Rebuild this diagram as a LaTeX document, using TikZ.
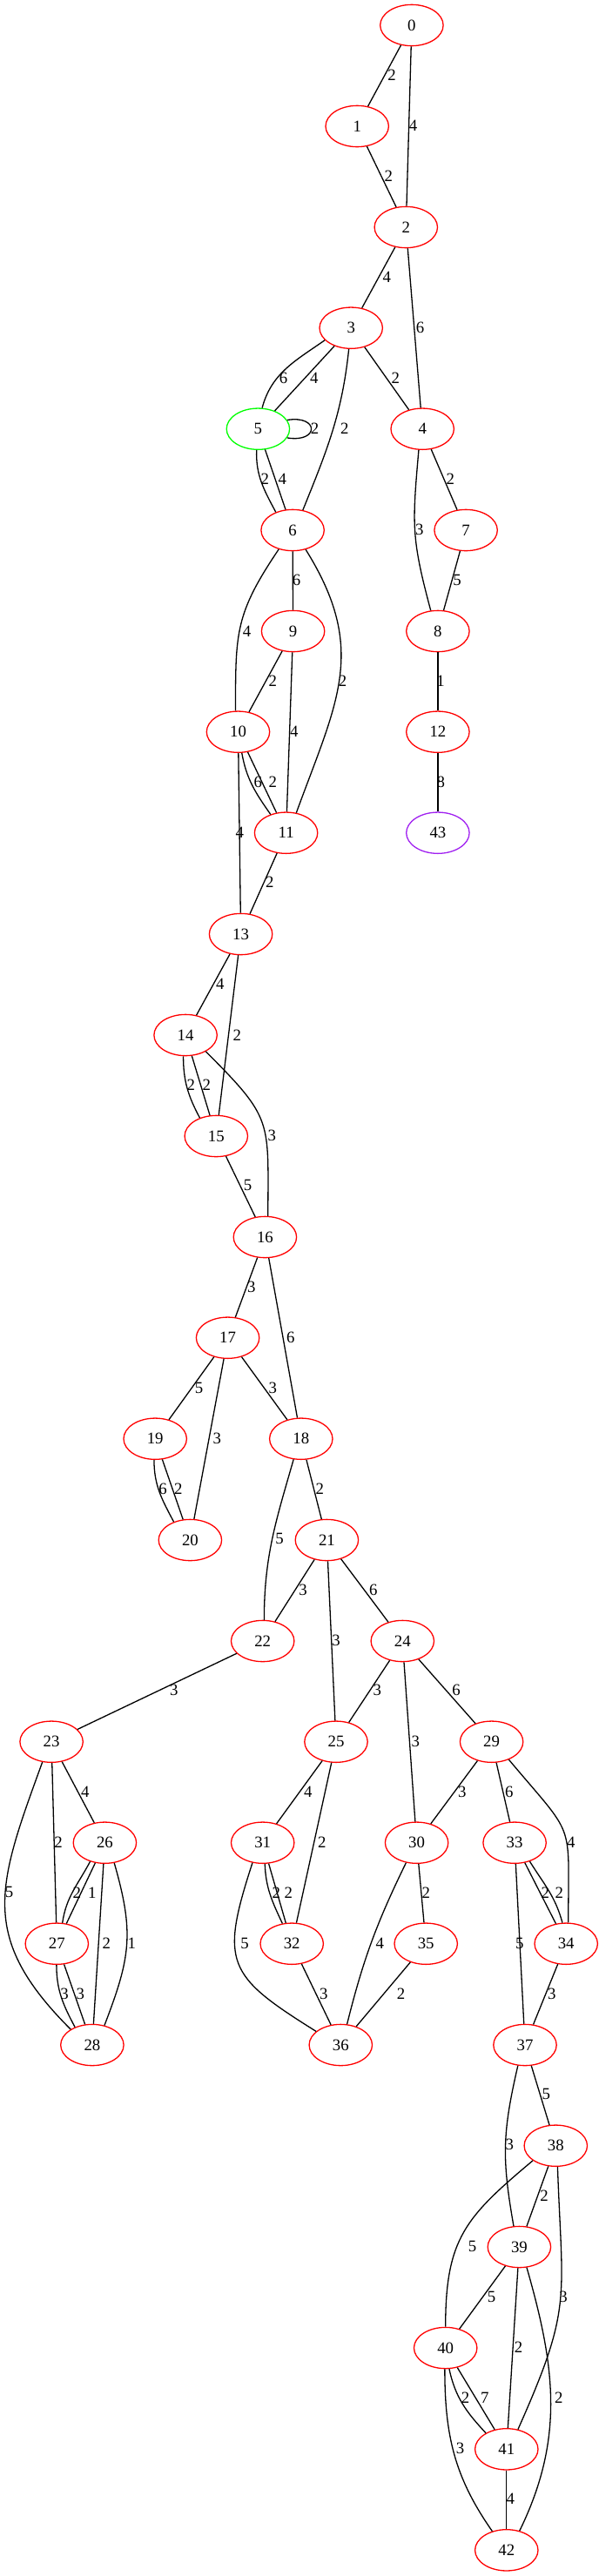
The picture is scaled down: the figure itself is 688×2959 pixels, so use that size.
\documentclass[tikz,border=0pt]{standalone}
\usepackage{fontspec}
\setmainfont{Liberation Serif}
\usetikzlibrary{shapes.geometric}
\definecolor{gvgreen}{RGB}{0,255,0}
\definecolor{gvpurple}{RGB}{160,32,240}
\begin{document}
\begin{tikzpicture}[x=1pt,y=1pt,
  vtx/.style={ellipse, draw=red, line width=1.3pt, minimum width=72.4pt, minimum height=47.3pt, inner sep=0pt, font=\fontsize{18.8}{20}\selectfont},
  lbl/.style={inner sep=0pt, font=\fontsize{18.8}{20}\selectfont},
  con/.style={line width=1.3pt, black}]
\useasboundingbox (0,0) rectangle (688,-2959);
% nodes
\node[vtx] (n0) at (472.9,-29) {0};
\node[vtx] (n1) at (410.2,-145) {1};
\node[vtx] (n2) at (466.3,-261) {2};
\node[vtx] (n3) at (403.2,-376.7) {3};
\node[vtx] (n4) at (485.2,-492.7) {4};
\node[vtx, draw=gvgreen] (n5) at (296.4,-492.7) {5};
\node[vtx] (n6) at (336.1,-609) {6};
\node[vtx] (n7) at (535.1,-609) {7};
\node[vtx] (n8) at (502.9,-725) {8};
\node[vtx] (n9) at (336.6,-725) {9};
\node[vtx] (n10) at (273.5,-840.7) {10};
\node[vtx] (n11) at (328.6,-956.7) {11};
\node[vtx] (n12) at (502.9,-840.7) {12};
\node[vtx, draw=gvpurple] (n43) at (502.9,-956.7) {43};
\node[vtx] (n13) at (276.6,-1073) {13};
\node[vtx] (n14) at (213.1,-1189) {14};
\node[vtx] (n15) at (248.3,-1305) {15};
\node[vtx] (n16) at (304.4,-1421) {16};
\node[vtx] (n17) at (261.6,-1536.7) {17};
\node[vtx] (n18) at (345.8,-1652.7) {18};
\node[vtx] (n19) at (178.2,-1652.7) {19};
\node[vtx] (n20) at (218.4,-1769) {20};
\node[vtx] (n21) at (375.4,-1769) {21};
\node[vtx] (n22) at (301.7,-1885) {22};
\node[vtx] (n24) at (462.3,-1885) {24};
\node[vtx] (n23) at (59.1,-2000.7) {23};
\node[vtx] (n25) at (386,-2000.7) {25};
\node[vtx] (n29) at (564.6,-2000.7) {29};
\node[vtx] (n26) at (120.4,-2116.7) {26};
\node[vtx] (n31) at (301.7,-2116.7) {31};
\node[vtx] (n30) at (478.6,-2116.7) {30};
\node[vtx] (n33) at (591.1,-2116.7) {33};
\node[vtx] (n27) at (65.3,-2232.7) {27};
\node[vtx] (n32) at (335.2,-2232.7) {32};
\node[vtx] (n35) at (489.2,-2232.7) {35};
\node[vtx] (n34) at (650.2,-2232.7) {34};
\node[vtx] (n28) at (105.9,-2349) {28};
\node[vtx] (n36) at (391.3,-2349) {36};
\node[vtx] (n37) at (603,-2349) {37};
\node[vtx] (n38) at (638.3,-2464.7) {38};
\node[vtx] (n39) at (596.4,-2581) {39};
\node[vtx] (n40) at (511.7,-2697) {40};
\node[vtx] (n41) at (581.8,-2813.3) {41};
\node[vtx] (n42) at (581.8,-2929.3) {42};
% edges
\draw[con] (n0) -- (n1);
\draw[con] (n0) -- (n2);
\draw[con] (n1) -- (n2);
\draw[con] (n2) -- (n3);
\draw[con] (n2) -- (n4);
\draw[con] (n3.205) to[out=215,in=75] (n5.79);
\draw[con] (n3) -- (n5);
\draw[con] (n3) -- (n4);
\draw[con] (n3.-96) to[out=-96,in=68] (n6.63);
\draw[con] (n5.17) .. controls +(37,6) and +(37,-6) .. (n5.-17);
\draw[con] (n5.-94) to[out=-92,in=118] (n6.133);
\draw[con] (n5) -- (n6);
\draw[con] (n4) -- (n7);
\draw[con] (n4.-100) to[out=-95,in=105,looseness=1.2] (n8.109);
\draw[con] (n7) -- (n8);
\draw[con] (n6) -- (n9);
\draw[con] (n6.-126) to[out=-124,in=90,looseness=1.2] (n10.97);
\draw[con] (n6.-56) to[out=-58,in=70,looseness=1.15] (n11.63);
\draw[con] (n9) -- (n10);
\draw[con] (n9) -- (n11);
\draw[con] (n8) -- (n12);
\draw[con] (n12) -- (n43);
\draw[con] (n10.-80) to[out=-80,in=125] (n11.130);
\draw[con] (n10) -- (n11);
\draw[con] (n10) -- (n13);
\draw[con] (n11) -- (n13);
\draw[con] (n13) -- (n14);
\draw[con] (n13) -- (n15);
\draw[con] (n14.-96) to[out=-90,in=118] (n15.132);
\draw[con] (n14) -- (n15);
\draw[con] (n14.-39) to[out=-45,in=90,looseness=1.4] (n16.82);
\draw[con] (n15) -- (n16);
\draw[con] (n16) -- (n17);
\draw[con] (n16) -- (n18);
\draw[con] (n17) -- (n19);
\draw[con] (n17) -- (n20);
\draw[con] (n17) -- (n18);
\draw[con] (n19.-93) to[out=-90,in=118] (n20.132);
\draw[con] (n19) -- (n20);
\draw[con] (n18.-110) to[out=-106,in=90] (n22.86);
\draw[con] (n18) -- (n21);
\draw[con] (n21) -- (n22);
\draw[con] (n21) -- (n25);
\draw[con] (n21) -- (n24);
\draw[con] (n22) -- (n23);
\draw[con] (n24) -- (n25);
\draw[con] (n24) -- (n30);
\draw[con] (n24) -- (n29);
\draw[con] (n23.-114) to[out=-110,in=135,looseness=1.25] (n28.144);
\draw[con] (n23) -- (n27);
\draw[con] (n23) -- (n26);
\draw[con] (n26.-128) to[out=-118,in=82] (n27.75);
\draw[con] (n26) -- (n27);
\draw[con] (n26) -- (n28);
\draw[con] (n26.-65) to[out=-74,in=69,looseness=1.15] (n28.58);
\draw[con] (n27.-91) to[out=-90,in=118] (n28.134);
\draw[con] (n27) -- (n28);
\draw[con] (n25) -- (n31);
\draw[con] (n25) -- (n32);
\draw[con] (n31.-84) to[out=-88,in=115] (n32.115);
\draw[con] (n31) -- (n32);
\draw[con] (n31.-117) to[out=-108,in=148,looseness=1.5] (n36.151);
\draw[con] (n32) -- (n36);
\draw[con] (n29) -- (n30);
\draw[con] (n29) -- (n33);
\draw[con] (n29.-46) to[out=-50,in=90,looseness=1.55] (n34.84);
\draw[con] (n30) -- (n35);
\draw[con] (n30.-118) to[out=-116,in=76] (n36.73);
\draw[con] (n35) -- (n36);
\draw[con] (n33) -- (n34);
\draw[con] (n33.-51) to[out=-58,in=105] (n34.100);
\draw[con] (n33) -- (n37);
\draw[con] (n34) -- (n37);
\draw[con] (n37) -- (n38);
\draw[con] (n37.-109) to[out=-103,in=100,looseness=1.1] (n39.105);
\draw[con] (n38) -- (n39);
\draw[con] (n38.-147) to[out=-140,in=90,looseness=1.2] (n40.90);
\draw[con] (n38.-85) to[out=-88,in=66,looseness=1.3] (n41.60);
\draw[con] (n39) -- (n40);
\draw[con] (n39) -- (n41);
\draw[con] (n39.-70) to[out=-74,in=64] (n42.56);
\draw[con] (n40.-80) to[out=-78,in=133] (n41.142);
\draw[con] (n40) -- (n41);
\draw[con] (n40.-92) to[out=-90,in=125] (n42.127);
\draw[con] (n41) -- (n42);
% labels
\node[lbl] (e0t1) at (450,-86.7) {2};
\node[lbl] (e0t2) at (474.6,-144.3) {4};
\node[lbl] (e1t2) at (446.4,-202) {2};
\node[lbl] (e2t3) at (444.2,-318.3) {4};
\node[lbl] (e2t4) at (482.6,-376.7) {6};
\node[lbl] (e3t5a) at (325.5,-434.3) {6};
\node[lbl] (e3t5b) at (360.8,-434.3) {4};
\node[lbl] (e3t4) at (454.3,-434.3) {2};
\node[lbl] (e5t5) at (361.5,-492.7) {2};
\node[lbl] (e3t6) at (395.7,-492.7) {2};
\node[lbl] (e5t6a) at (304.4,-550) {2};
\node[lbl] (e5t6b) at (324.2,-550) {4};
\node[lbl] (e4t7) at (517.4,-550) {2};
\node[lbl] (e4t8) at (481.7,-608.3) {3};
\node[lbl] (e6t9) at (340.5,-666) {6};
\node[lbl] (e7t8) at (525,-666) {5};
\node[lbl] (e6t10) at (283.6,-725) {4};
\node[lbl] (e9t10) at (313.2,-782.7) {2};
\node[lbl] (e6t11) at (393.5,-782.7) {2};
\node[lbl] (e8t12) at (506,-782.7) {1};
\node[lbl] (e9t11) at (337.9,-840.7) {4};
\node[lbl] (e10t11a) at (296.4,-898.3) {6};
\node[lbl] (e10t11b) at (313.2,-898.3) {2};
\node[lbl] (e12t43) at (506.4,-898.3) {8};
\node[lbl] (e10t13) at (275.3,-956) {4};
\node[lbl] (e11t13) at (309.7,-1013.7) {2};
\node[lbl] (e13t14) at (252.8,-1130) {4};
\node[lbl] (e13t15) at (272.2,-1189) {2};
\node[lbl] (e14t15a) at (219.2,-1246.7) {2};
\node[lbl] (e14t15b) at (237.3,-1246.7) {2};
\node[lbl] (e14t16) at (312.3,-1304.3) {3};
\node[lbl] (e15t16) at (284.5,-1361.7) {5};
\node[lbl] (e16t17) at (288.9,-1478.3) {3};
\node[lbl] (e16t18) at (333.9,-1536) {6};
\node[lbl] (e17t19) at (228.5,-1594.3) {5};
\node[lbl] (e17t18) at (313.2,-1594.3) {3};
\node[lbl] (e17t20) at (249.2,-1652.3) {3};
\node[lbl] (e19t20a) at (187,-1710) {6};
\node[lbl] (e19t20b) at (204.7,-1710) {2};
\node[lbl] (e18t21) at (367.4,-1710) {2};
\node[lbl] (e18t22) at (321.1,-1767.7) {5};
\node[lbl] (e21t22) at (348,-1826) {3};
\node[lbl] (e21t24) at (428.8,-1826) {6};
\node[lbl] (e21t25) at (386,-1884) {3};
\node[lbl] (e22t23) at (199.8,-1941.7) {3};
\node[lbl] (e24t25) at (433.2,-1941.7) {3};
\node[lbl] (e24t29) at (524,-1941.7) {6};
\node[lbl] (e24t30) at (477.3,-2000) {3};
\node[lbl] (e23t26) at (97.9,-2058.3) {4};
\node[lbl] (e23t27) at (67,-2116.7) {2};
\node[lbl] (e23t28) at (10.6,-2173.3) {5};
\node[lbl] (e26t27a) at (88.2,-2174.3) {2};
\node[lbl] (e26t27b) at (105.9,-2174.3) {1};
\node[lbl] (e26t28a) at (122.2,-2232.3) {2};
\node[lbl] (e26t28b) at (151.3,-2232.3) {1};
\node[lbl] (e27t28a) at (74.1,-2290) {3};
\node[lbl] (e27t28b) at (92.2,-2290) {3};
\node[lbl] (e25t31) at (353.8,-2058.3) {4};
\node[lbl] (e25t32) at (369.7,-2116.7) {2};
\node[lbl] (e31t32a) at (317.2,-2174.3) {2};
\node[lbl] (e31t32b) at (331.3,-2174.3) {2};
\node[lbl] (e31t36) at (281,-2232.3) {5};
\node[lbl] (e32t36) at (371.9,-2290) {3};
\node[lbl] (e29t30) at (530.7,-2058.3) {3};
\node[lbl] (e29t33) at (584.9,-2058.3) {6};
\node[lbl] (e29t34) at (655.9,-2116.7) {4};
\node[lbl] (e30t35) at (489.2,-2174.3) {2};
\node[lbl] (e30t36) at (436.3,-2232.3) {4};
\node[lbl] (e35t36) at (460.5,-2290) {2};
\node[lbl] (e33t34a) at (626.4,-2174.3) {2};
\node[lbl] (e33t34b) at (642.3,-2174.3) {2};
\node[lbl] (e33t37) at (596.8,-2232.3) {5};
\node[lbl] (e34t37) at (633.9,-2290) {3};
\node[lbl] (e37t38) at (627.3,-2405.7) {5};
\node[lbl] (e37t39) at (585.4,-2463.3) {3};
\node[lbl] (e38t39) at (625,-2522.7) {2};
\node[lbl] (e38t40) at (542.6,-2580.7) {5};
\node[lbl] (e38t41) at (647.1,-2638.3) {3};
\node[lbl] (e39t40) at (564.6,-2638.3) {5};
\node[lbl] (e39t41) at (595.5,-2696.7) {2};
\node[lbl] (e40t41a) at (534.6,-2754) {2};
\node[lbl] (e40t41b) at (556.7,-2754) {7};
\node[lbl] (e39t42) at (641.8,-2754) {2};
\node[lbl] (e40t42) at (528.5,-2812.3) {3};
\node[lbl] (e41t42) at (586.2,-2870.7) {4};
\end{tikzpicture}
\end{document}
